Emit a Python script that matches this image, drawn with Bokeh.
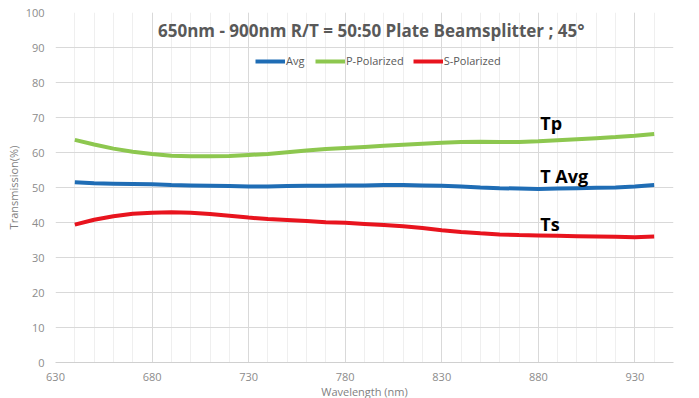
from bokeh.plotting import figure
from bokeh.models import FixedTicker, Legend, LegendItem, Label, ColumnDataSource
from bokeh.embed import file_html
from bokeh.resources import INLINE

wavelength = [640, 650, 660, 670, 680, 690, 700, 710, 720, 730, 740, 750, 760, 770, 780,
              790, 800, 810, 820, 830, 840, 850, 860, 870, 880, 890, 900, 910, 920, 930, 940]
t_avg = [51.5, 51.2, 51.1, 51.0, 50.9, 50.7, 50.6, 50.5, 50.4, 50.3, 50.3, 50.4, 50.5, 50.5, 50.6,
         50.6, 50.7, 50.7, 50.6, 50.5, 50.3, 50.0, 49.8, 49.7, 49.6, 49.7, 49.8, 49.9, 50.0, 50.3, 50.7]
t_p = [63.6, 62.3, 61.1, 60.2, 59.6, 59.1, 58.9, 58.9, 59.0, 59.3, 59.6, 60.1, 60.6, 61.0, 61.3,
       61.6, 61.9, 62.2, 62.5, 62.8, 63.0, 63.1, 63.0, 63.0, 63.2, 63.5, 63.8, 64.1, 64.4, 64.8, 65.3]
t_s = [39.4, 40.8, 41.8, 42.5, 42.8, 42.9, 42.8, 42.4, 41.9, 41.4, 41.0, 40.7, 40.4, 40.1, 39.9,
       39.6, 39.3, 38.9, 38.4, 37.8, 37.3, 36.9, 36.6, 36.4, 36.3, 36.2, 36.1, 36.0, 35.9, 35.8, 36.0]

series_names = ["Avg", "P-Polarized", "S-Polarized"]
series_colors = ["#1f6db5", "#8dc74f", "#e8141e"]

x_ticks = [630, 680, 730, 780, 830, 880, 930]
x_minor = list(range(630, 951, 10))
y_ticks = list(range(0, 101, 10))

title_text = "650nm - 900nm R/T = 50:50 Plate Beamsplitter ; 45\u00b0"
note_texts = ["Tp", "T Avg", "Ts"]
note_x = [881, 881, 881]
note_y = [68.3, 53.4, 39.7]

p = figure(frame_width=618, frame_height=350, x_range=(630, 950), y_range=(0, 100),
           output_backend="svg", toolbar_location=None,
           min_border_left=55, min_border_right=10, min_border_top=12, min_border_bottom=0)
p.outline_line_color = None
p.background_fill_color = "white"
p.border_fill_color = "white"

p.xaxis.ticker = FixedTicker(ticks=x_ticks, minor_ticks=x_minor)
p.yaxis.ticker = FixedTicker(ticks=y_ticks)
for ax in (p.xaxis, p.yaxis):
    ax.major_tick_line_color = None
    ax.minor_tick_line_color = None
    ax.major_tick_out = 0
    ax.major_tick_in = 0
    ax.minor_tick_out = 0
    ax.minor_tick_in = 0
    ax.major_label_text_color = "#8c8c8c"
    ax.major_label_text_font = "Open Sans"
    ax.major_label_text_font_size = "11px"
    ax.axis_label_text_color = "#7f7f7f"
    ax.axis_label_text_font = "Open Sans"
    ax.axis_label_text_font_size = "11px"
    ax.axis_label_text_font_style = "normal"
p.xaxis.axis_line_color = "#d0d0d0"
p.yaxis.axis_line_color = None
p.xaxis.major_label_standoff = 10
p.yaxis.major_label_standoff = 11
p.xaxis.axis_label = "Wavelength (nm)"
p.yaxis.axis_label = "Transmission(%)"
p.xaxis.axis_label_standoff = 0
p.yaxis.axis_label_standoff = 2

p.xgrid.grid_line_color = "#d9d9d9"
p.xgrid.minor_grid_line_color = "#efefef"
p.ygrid.grid_line_color = "#d9d9d9"

src = ColumnDataSource(dict(x=wavelength, avg=t_avg, tp=t_p, ts=t_s))
r_avg = p.line("x", "avg", source=src, line_color=series_colors[0], line_width=4)
r_p = p.line("x", "tp", source=src, line_color=series_colors[1], line_width=4)
r_s = p.line("x", "ts", source=src, line_color=series_colors[2], line_width=4)

legend = Legend(items=[LegendItem(label=series_names[0], renderers=[r_avg]),
                       LegendItem(label=series_names[1], renderers=[r_p]),
                       LegendItem(label=series_names[2], renderers=[r_s])],
                orientation="horizontal", location=(200, 294),
                background_fill_alpha=0, border_line_color=None,
                label_text_font="Open Sans", label_text_font_size="11px",
                label_text_color="#595959", glyph_width=30, glyph_height=14,
                label_height=14, label_standoff=1, spacing=9, padding=0, margin=0)
p.add_layout(legend, "center")

p.add_layout(Label(x=793.5, y=94.9, text=title_text, text_align="center",
                   text_baseline="middle", text_font="Open Sans", text_font_size="17px",
                   text_font_style="bold", text_color="#595959"))

for t, xx, yy in zip(note_texts, note_x, note_y):
    p.add_layout(Label(x=xx, y=yy, text=t, text_align="left", text_baseline="middle",
                       text_font="Open Sans", text_font_size="18px",
                       text_font_style="bold", text_color="black"))

open("out.html", "w").write(file_html(p, INLINE))
